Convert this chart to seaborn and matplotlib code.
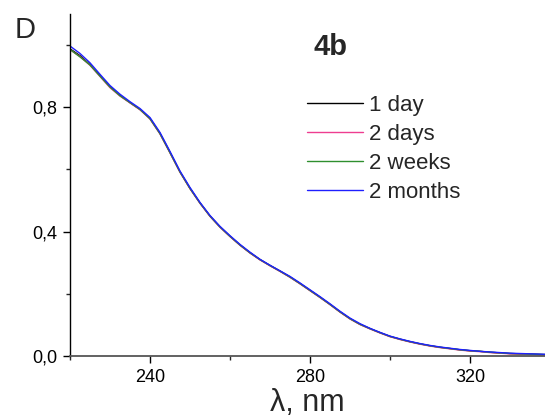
import matplotlib
matplotlib.use("Agg")
import matplotlib.pyplot as plt
from matplotlib.ticker import MultipleLocator, FuncFormatter
import pandas as pd
import seaborn as sns

# Absorption spectra of sample 4b recorded after different storage times
wavelength = [220, 222.5, 225, 227.5, 230, 232.5, 235, 237.5, 240, 242.5,
              245, 247.5, 250, 252.5, 255, 257.5, 260, 262.5, 265, 267.5,
              270, 272.5, 275, 277.5, 280, 282.5, 285, 287.5, 290, 292.5,
              295, 297.5, 300, 302.5, 305, 307.5, 310, 312.5, 315, 317.5,
              320, 322.5, 325, 327.5, 330, 332.5, 335, 337.5, 340]

abs_1day = [0.988, 0.966, 0.937, 0.902, 0.866, 0.838, 0.815, 0.793, 0.764, 0.716,
            0.655, 0.592, 0.539, 0.492, 0.450, 0.415, 0.385, 0.357, 0.332, 0.310,
            0.291, 0.273, 0.254, 0.233, 0.211, 0.189, 0.166, 0.142, 0.120, 0.102,
            0.088, 0.075, 0.063, 0.054, 0.046, 0.039, 0.033, 0.028, 0.024, 0.020,
            0.017, 0.015, 0.012, 0.010, 0.008, 0.007, 0.006, 0.005, 0.004]

abs_2days = [0.985, 0.963, 0.935, 0.899, 0.863, 0.836, 0.814, 0.792, 0.762, 0.714,
             0.653, 0.591, 0.538, 0.491, 0.449, 0.414, 0.384, 0.356, 0.331, 0.309,
             0.290, 0.272, 0.253, 0.232, 0.210, 0.188, 0.165, 0.141, 0.119, 0.101,
             0.087, 0.074, 0.062, 0.053, 0.045, 0.038, 0.032, 0.027, 0.023, 0.019,
             0.016, 0.014, 0.011, 0.009, 0.007, 0.006, 0.005, 0.004, 0.003]

abs_2weeks = [0.986, 0.962, 0.936, 0.900, 0.865, 0.837, 0.815, 0.793, 0.763, 0.715,
              0.654, 0.592, 0.539, 0.492, 0.450, 0.415, 0.385, 0.357, 0.332, 0.310,
              0.291, 0.273, 0.254, 0.233, 0.211, 0.189, 0.166, 0.142, 0.120, 0.102,
              0.088, 0.075, 0.063, 0.054, 0.046, 0.039, 0.033, 0.028, 0.024, 0.020,
              0.017, 0.015, 0.012, 0.010, 0.008, 0.007, 0.006, 0.005, 0.004]

abs_2months = [0.997, 0.973, 0.943, 0.906, 0.870, 0.842, 0.818, 0.796, 0.767, 0.719,
               0.658, 0.595, 0.542, 0.494, 0.452, 0.417, 0.387, 0.359, 0.334, 0.311,
               0.292, 0.274, 0.256, 0.235, 0.213, 0.191, 0.168, 0.144, 0.122, 0.104,
               0.089, 0.076, 0.064, 0.055, 0.047, 0.040, 0.034, 0.029, 0.025, 0.021,
               0.018, 0.015, 0.013, 0.011, 0.009, 0.008, 0.007, 0.006, 0.005]

series_names = ["1 day", "2 days", "2 weeks", "2 months"]
series_colors = ["#000000", "#ee3d90", "#2f8f2f", "#1f1fff"]

frames = []
for name, values in zip(series_names, [abs_1day, abs_2days, abs_2weeks, abs_2months]):
    frames.append(pd.DataFrame({"wavelength": wavelength, "absorbance": values, "series": name}))
data = pd.concat(frames, ignore_index=True)

sns.set_theme(style="ticks")
plt.rcParams["font.family"] = ["Liberation Sans", "DejaVu Sans"]

fig = plt.figure(figsize=(5.45, 4.2), dpi=100)
ax = fig.add_axes([70 / 545, 64 / 420, 475 / 545, 342 / 420])

sns.lineplot(data=data, x="wavelength", y="absorbance", hue="series",
             hue_order=series_names, palette=dict(zip(series_names, series_colors)),
             linewidth=1.0, ax=ax, legend=True)

ax.set_xlim(220, 338.75)
ax.set_ylim(0, 1.10)

ax.xaxis.set_major_locator(MultipleLocator(40))
ax.xaxis.set_minor_locator(MultipleLocator(20))
ax.yaxis.set_major_locator(MultipleLocator(0.4))
ax.yaxis.set_minor_locator(MultipleLocator(0.2))
ax.yaxis.set_major_formatter(FuncFormatter(lambda v, p: f"{v:.1f}".replace(".", ",")))
ax.xaxis.set_major_formatter(FuncFormatter(lambda v, p: f"{v:.0f}"))

ax.tick_params(axis="both", which="major", direction="out", length=5, width=1,
               labelsize=13, colors="black", pad=4)
ax.tick_params(axis="both", which="minor", direction="out", length=3, width=1)

for side in ["top", "right"]:
    ax.spines[side].set_visible(False)
ax.spines["left"].set_color("black")
ax.spines["bottom"].set_color("#555555")
ax.spines["left"].set_linewidth(1.0)
ax.spines["bottom"].set_linewidth(1.3)

ax.set_xlabel("λ, nm", fontsize=22, labelpad=2)
ax.set_ylabel("")

fig.text(25.5 / 545, 1 - 29.5 / 420, "D", fontsize=21, ha="center", va="center")
fig.text(331 / 545, 1 - 47 / 420, "4b", fontsize=21, fontweight="bold",
         ha="center", va="center")

leg = ax.legend(frameon=False, loc="upper left",
                bbox_to_anchor=(307 / 545, 1 - 95 / 420), bbox_transform=fig.transFigure,
                fontsize=16, handlelength=2.5, handletextpad=0.3,
                labelspacing=0.36, borderaxespad=0, borderpad=0)
for line in leg.get_lines():
    line.set_linewidth(1.0)

fig.savefig("out.png", dpi=100)
